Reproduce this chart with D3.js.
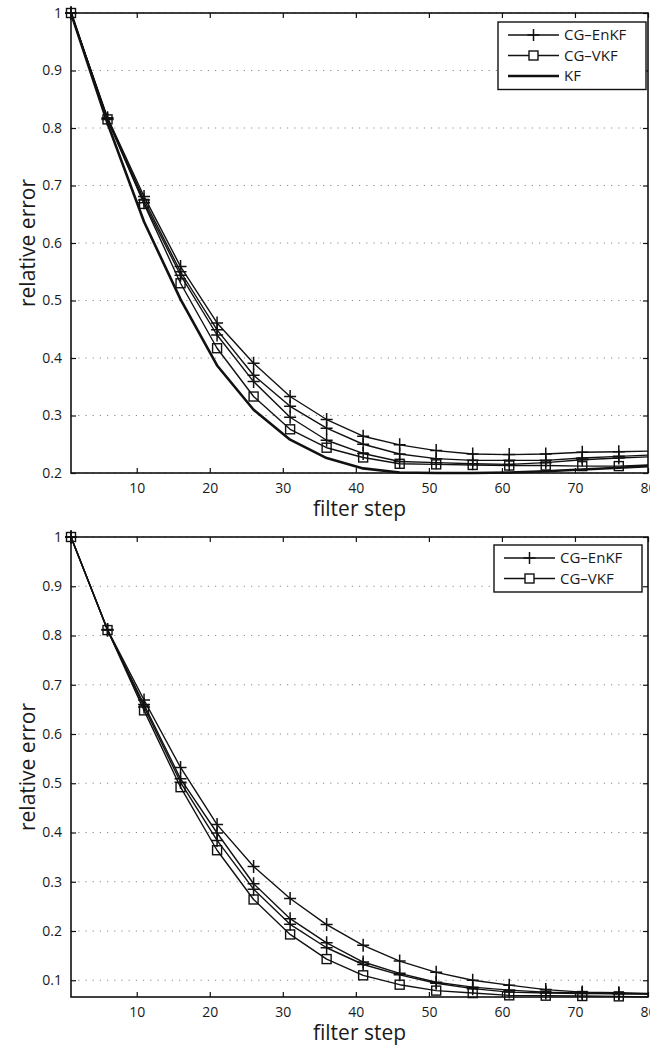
<!DOCTYPE html>
<html>
<head>
<meta charset="utf-8">
<script src="https://cdn.jsdelivr.net/npm/d3@7"></script>
<style>
  body { margin: 0; background: #fff; }
  svg text { font-family: "Open Sans", sans-serif; fill: #1a1a1a; }
</style>
</head>
<body>
<div id="chart"></div>
<script>
// filter steps (markers every 5 steps, last point at 80)
const steps = [1, 6, 11, 16, 21, 26, 31, 36, 41, 46, 51, 56, 61, 66, 71, 76, 80];
const xTicks = [10, 20, 30, 40, 50, 60, 70, 80];

// top panel
const topEnKF1 = [1, 0.818, 0.681, 0.559, 0.461, 0.391, 0.333, 0.293, 0.264, 0.249, 0.239, 0.233, 0.232, 0.233, 0.236, 0.237, 0.238];
const topEnKF2 = [1, 0.816, 0.675, 0.550, 0.449, 0.370, 0.316, 0.278, 0.250, 0.233, 0.225, 0.222, 0.222, 0.222, 0.226, 0.229, 0.231];
const topEnKF3 = [1, 0.815, 0.670, 0.544, 0.440, 0.359, 0.297, 0.257, 0.234, 0.220, 0.218, 0.216, 0.215, 0.218, 0.223, 0.226, 0.228];
const topVKF   = [1, 0.815, 0.668, 0.530, 0.417, 0.333, 0.276, 0.244, 0.227, 0.216, 0.215, 0.214, 0.213, 0.213, 0.212, 0.212, 0.214];
const topKF    = [1, 0.808, 0.637, 0.502, 0.387, 0.310, 0.258, 0.226, 0.208, 0.201, 0.200, 0.200, 0.201, 0.203, 0.206, 0.209, 0.212];
const topYTicks = [0.2, 0.3, 0.4, 0.5, 0.6, 0.7, 0.8, 0.9, 1];

// bottom panel
const botEnKF1 = [1, 0.812, 0.669, 0.532, 0.416, 0.331, 0.266, 0.213, 0.171, 0.139, 0.116, 0.100, 0.090, 0.081, 0.076, 0.0745, 0.073];
const botEnKF2 = [1, 0.811, 0.660, 0.509, 0.399, 0.296, 0.225, 0.176, 0.137, 0.114, 0.096, 0.086, 0.080, 0.076, 0.074, 0.073, 0.0722];
const botEnKF3 = [1, 0.811, 0.655, 0.502, 0.384, 0.285, 0.2135, 0.166, 0.132, 0.111, 0.094, 0.083, 0.076, 0.074, 0.073, 0.0725, 0.0718];
const botVKF   = [1, 0.811, 0.648, 0.492, 0.364, 0.264, 0.193, 0.143, 0.110, 0.091, 0.079, 0.074, 0.0694, 0.0687, 0.068, 0.0673, 0.066];
const botYTicks = [0.1, 0.2, 0.3, 0.4, 0.5, 0.6, 0.7, 0.8, 0.9, 1];

const legendTop = ["CG\u2013EnKF", "CG\u2013VKF", "KF"];
const legendBot = ["CG\u2013EnKF", "CG\u2013VKF"];

const svg = d3.select("#chart")
  .append("svg")
  .attr("width", 650)
  .attr("height", 1048);

function drawPanel(cfg) {
  const margin = {top: cfg.top, left: 71},
    width = 577,
    height = 460;

  const g = svg.append("g")
    .attr("transform", `translate(${margin.left},${margin.top})`);

  // axis tight: y runs from the lowest value up to 1
  const allVals = cfg.series.flatMap(s => s.values);
  const x = d3.scaleLinear().domain([1, 80]).range([0, width]);
  const y = d3.scaleLinear().domain([d3.min(allVals), 1]).range([height, 0]);

  // horizontal dotted grid
  g.append("g")
    .selectAll("line")
    .data(cfg.yTicks)
    .join("line")
    .attr("x1", 0).attr("x2", width)
    .attr("y1", d => y(d)).attr("y2", d => y(d))
    .attr("stroke", "#8a8a8a")
    .attr("stroke-width", 1)
    .attr("stroke-dasharray", "1.2,6");

  // series
  const line = d3.line().x((d, i) => x(steps[i])).y(d => y(d));
  cfg.series.forEach(s => {
    g.append("path")
      .datum(s.values)
      .attr("fill", "none")
      .attr("stroke", "#111")
      .attr("stroke-width", s.marker ? 1.4 : 2.6)
      .attr("stroke-linejoin", "round")
      .attr("d", line);

    if (!s.marker) return;
    const pts = s.values
      .map((v, i) => ({s: steps[i], v: v}))
      .filter(d => d.s % 5 === 1);
    const m = g.append("g").selectAll("g")
      .data(pts)
      .join("g")
      .attr("transform", d => `translate(${x(d.s)},${y(d.v)})`);
    if (s.marker === "plus") {
      m.append("path")
        .attr("d", "M-6,0H6M0,-6.5V6.5")
        .attr("stroke", "#111")
        .attr("stroke-width", 1.5);
    } else {
      m.append("rect")
        .attr("x", -4.5).attr("y", -4.5)
        .attr("width", 9).attr("height", 9)
        .attr("fill", "none")
        .attr("stroke", "#111")
        .attr("stroke-width", 1.4);
    }
  });

  // axes: bottom / left with labels, top / right ticks only
  const xAxis = d3.axisBottom(x).tickValues(xTicks).tickSizeInner(-5).tickSizeOuter(0).tickPadding(10);
  const xAxisTop = d3.axisTop(x).tickValues(xTicks).tickSizeInner(-5).tickSizeOuter(0).tickFormat("");
  const yAxis = d3.axisLeft(y).tickValues(cfg.yTicks).tickSizeInner(-5).tickSizeOuter(0).tickPadding(9)
    .tickFormat(d => d === 1 ? "1" : d3.format(".1f")(d));
  const yAxisRight = d3.axisRight(y).tickValues(cfg.yTicks).tickSizeInner(-5).tickSizeOuter(0).tickFormat("");

  [
    g.append("g").attr("transform", `translate(0,${height})`).call(xAxis),
    g.append("g").call(xAxisTop),
    g.append("g").call(yAxis),
    g.append("g").attr("transform", `translate(${width},0)`).call(yAxisRight)
  ].forEach(a => {
    a.select(".domain").remove();
    a.selectAll("line").attr("stroke", "#111").attr("stroke-width", 1.2);
    a.selectAll("text").style("font-size", "14px").attr("fill", "#1a1a1a");
  });

  // box
  g.append("rect")
    .attr("width", width).attr("height", height)
    .attr("fill", "none")
    .attr("stroke", "#111")
    .attr("stroke-width", 1.6);

  // axis labels
  g.append("text")
    .attr("x", width / 2)
    .attr("y", height + 43)
    .attr("text-anchor", "middle")
    .style("font-size", "21px")
    .text("filter step");

  g.append("text")
    .attr("transform", `translate(-36,${height / 2})rotate(-90)`)
    .attr("text-anchor", "middle")
    .style("font-size", "21px")
    .text("relative error");

  // legend
  const lw = 148, rowH = 20.5;
  const lh = cfg.legend.length * rowH + 6;
  const lg = g.append("g")
    .attr("transform", `translate(${width - lw - 2 + cfg.legendDx},${cfg.legendDy})`);
  lg.append("rect")
    .attr("width", lw).attr("height", lh)
    .attr("fill", "#fff")
    .attr("stroke", "#111")
    .attr("stroke-width", 1.4);
  cfg.legend.forEach((name, i) => {
    const s = cfg.series.find(d => d.name === name);
    const row = lg.append("g").attr("transform", `translate(0,${13 + i * rowH})`);
    row.append("line")
      .attr("x1", 10).attr("x2", 61)
      .attr("stroke", "#111")
      .attr("stroke-width", s.marker ? 1.4 : 2.6);
    if (s.marker === "plus") {
      row.append("path").attr("d", "M29.5,0H41.5M35.5,-6V6")
        .attr("stroke", "#111").attr("stroke-width", 1.5);
    } else if (s.marker === "square") {
      row.append("rect").attr("x", 31).attr("y", -4.5).attr("width", 9).attr("height", 9)
        .attr("fill", "#fff").attr("stroke", "#111").attr("stroke-width", 1.4);
    }
    row.append("text")
      .attr("x", 66)
      .attr("dy", "0.35em")
      .style("font-size", "15px")
      .text(name);
  });
}

drawPanel({
  top: 13,
  yTicks: topYTicks,
  legend: legendTop,
  legendDx: 0,
  legendDy: 9,
  series: [
    {name: "CG\u2013EnKF", marker: "plus", values: topEnKF1},
    {name: "CG\u2013EnKF", marker: "plus", values: topEnKF2},
    {name: "CG\u2013EnKF", marker: "plus", values: topEnKF3},
    {name: "CG\u2013VKF", marker: "square", values: topVKF},
    {name: "KF", marker: null, values: topKF}
  ]
});

drawPanel({
  top: 537,
  yTicks: botYTicks,
  legend: legendBot,
  legendDx: -4,
  legendDy: 8,
  series: [
    {name: "CG\u2013EnKF", marker: "plus", values: botEnKF1},
    {name: "CG\u2013EnKF", marker: "plus", values: botEnKF2},
    {name: "CG\u2013EnKF", marker: "plus", values: botEnKF3},
    {name: "CG\u2013VKF", marker: "square", values: botVKF}
  ]
});
</script>
</body>
</html>
